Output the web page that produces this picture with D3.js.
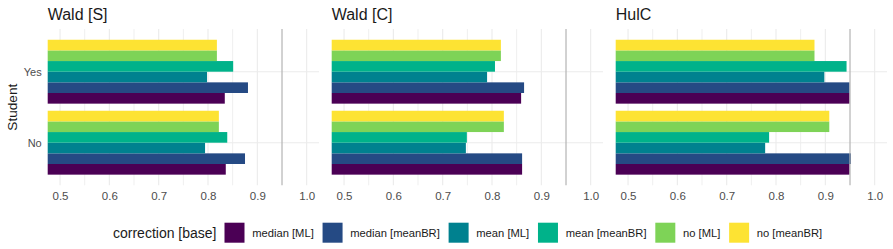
<!DOCTYPE html>
<html>
<head>
<meta charset="utf-8">
<script src="https://cdn.jsdelivr.net/npm/d3@7"></script>
<style>
  body { margin: 0; background: #fff; }
  svg { display: block; font-family: 'Liberation Sans', Arial, sans-serif; }
</style>
</head>
<body>
<svg id="chart" width="893" height="249"></svg>
<script>
// facets, groups and fill levels
const panels = ['Wald [S]', 'Wald [C]', 'HulC']
const students = ['Yes', 'No']
const corrections = ['median [ML]', 'median [meanBR]', 'mean [ML]', 'mean [meanBR]', 'no [ML]', 'no [meanBR]']
const fills = ['#4b0055', '#254a84', '#00818f', '#00b28a', '#7ed357', '#fde333']

// coverage values, in the order of corrections
const waldSYes = [0.834, 0.881, 0.798, 0.851, 0.818, 0.818]
const waldSNo = [0.836, 0.875, 0.794, 0.839, 0.822, 0.822]
const waldCYes = [0.859, 0.865, 0.790, 0.806, 0.818, 0.818]
const waldCNo = [0.861, 0.861, 0.747, 0.749, 0.824, 0.824]
const hulcYes = [0.949, 0.949, 0.898, 0.943, 0.878, 0.878]
const hulcNo = [0.949, 0.952, 0.778, 0.786, 0.908, 0.908]

const majorTicks = [0.5, 0.6, 0.7, 0.8, 0.9, 1.0]
const minorTicks = [0.55, 0.65, 0.75, 0.85]
const nominal = 0.95

const values = {
	'Wald [S]': { Yes: waldSYes, No: waldSNo },
	'Wald [C]': { Yes: waldCYes, No: waldCNo },
	'HulC': { Yes: hulcYes, No: hulcNo },
}

const svg = d3.select('#chart')

const margin = { top: 29.1, left: 47.7, bottom: 63.7 }
const panelWidth = 271.3
const panelGap = 12.7
const panelHeight = 249 - margin.top - margin.bottom

// y: discrete scale, like ggplot's 0.6 expansion
const y = d3.scalePoint()
	.domain(students)
	.range([margin.top, margin.top + panelHeight])
	.padding(0.6)
const step = y.step()

const defs = svg.append('defs')

panels.forEach((name, p) => {
	const left = margin.left + p * (panelWidth + panelGap)
	const x = d3.scaleLinear()
		.domain([0.475, 1.025])
		.range([left, left + panelWidth])

	const g = svg.append('g')

	// grid
	g.append('g').selectAll('line')
		.data(minorTicks)
		.join('line')
		.attr('x1', d => x(d)).attr('x2', d => x(d))
		.attr('y1', margin.top).attr('y2', margin.top + panelHeight)
		.attr('stroke', '#efefef').attr('stroke-width', 1)
	g.append('g').selectAll('line')
		.data(majorTicks)
		.join('line')
		.attr('x1', d => x(d)).attr('x2', d => x(d))
		.attr('y1', margin.top).attr('y2', margin.top + panelHeight)
		.attr('stroke', '#ebebeb').attr('stroke-width', 1.1)
	g.append('g').selectAll('line')
		.data(students)
		.join('line')
		.attr('x1', left).attr('x2', left + panelWidth)
		.attr('y1', d => y(d)).attr('y2', d => y(d))
		.attr('stroke', '#ebebeb').attr('stroke-width', 1.1)

	// bars, clipped to the panel
	const clipId = 'clip' + p
	defs.append('clipPath').attr('id', clipId)
		.append('rect')
		.attr('x', left).attr('y', margin.top)
		.attr('width', panelWidth).attr('height', panelHeight)

	const bars = g.append('g').attr('clip-path', `url(#${clipId})`)
	students.forEach(s => {
		// first level at the bottom of the group
		const inner = d3.scaleBand()
			.domain(corrections)
			.range([y(s) + step * 0.45, y(s) - step * 0.45])
		bars.append('g').selectAll('rect')
			.data(values[name][s].map((v, i) => ({ v, c: corrections[i], i })))
			.join('rect')
			.attr('x', x(0))
			.attr('width', d => x(d.v) - x(0))
			.attr('y', d => inner(d.c))
			.attr('height', inner.bandwidth())
			.attr('fill', d => fills[d.i])
	})

	// nominal level
	g.append('line')
		.attr('x1', x(nominal)).attr('x2', x(nominal))
		.attr('y1', margin.top).attr('y2', margin.top + panelHeight)
		.attr('stroke', '#b3b3b3').attr('stroke-opacity', 0.85).attr('stroke-width', 1.4)

	// x axis labels
	const axis = g.append('g')
		.attr('transform', `translate(0,${margin.top + panelHeight})`)
		.call(d3.axisBottom(x).tickValues(majorTicks).tickFormat(d3.format('.1f')).tickSize(0).tickPadding(7))
	axis.select('.domain').remove()
	axis.selectAll('text')
		.attr('fill', '#4d4d4d')
		.style('font-size', '11.5px')
		.style('font-family', "'Liberation Sans', Arial, sans-serif")

	// strip title
	svg.append('text')
		.attr('x', left).attr('y', 19.5)
		.attr('fill', '#1a1a1a')
		.style('font-size', '16px')
		.text(name)
})

// y axis labels
const yAxis = svg.append('g')
	.attr('transform', `translate(${margin.left - 3},0)`)
	.call(d3.axisLeft(y).tickSize(0).tickPadding(3))
yAxis.select('.domain').remove()
yAxis.selectAll('text')
	.attr('fill', '#4d4d4d')
	.style('font-size', '11px')
	.style('font-family', "'Liberation Sans', Arial, sans-serif")

svg.append('text')
	.attr('transform', `translate(16.5,${margin.top + panelHeight / 2}) rotate(-90)`)
	.attr('text-anchor', 'middle')
	.attr('fill', '#1a1a1a')
	.style('font-size', '13.6px')
	.text('Student')

// legend
const legendY = 233
const legend = svg.append('g')
const title = legend.append('text')
	.attr('x', 113).attr('y', legendY)
	.attr('dy', '0.35em')
	.attr('fill', '#1a1a1a')
	.style('font-size', '14px')
	.text('correction [base]')

let cursor = 113 + title.node().getComputedTextLength() + 8
corrections.forEach((c, i) => {
	legend.append('rect')
		.attr('x', cursor).attr('y', legendY - 10.3)
		.attr('width', 20).attr('height', 20)
		.attr('fill', fills[i])
	const label = legend.append('text')
		.attr('x', cursor + 27.7).attr('y', legendY)
		.attr('dy', '0.35em')
		.attr('fill', '#1a1a1a')
		.style('font-size', '11.2px')
		.text(c)
	cursor += 27.7 + label.node().getComputedTextLength() + 8.8
})
</script>
</body>
</html>
